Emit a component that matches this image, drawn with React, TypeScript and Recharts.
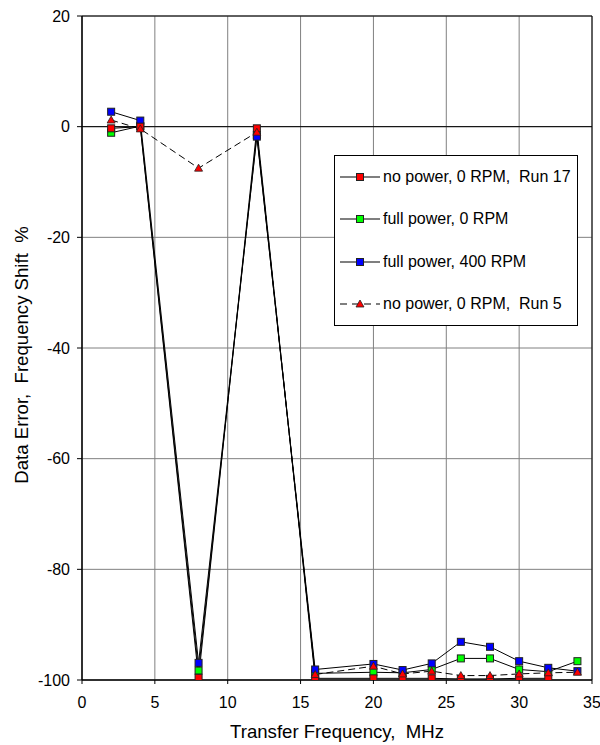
import React from 'react';
import {
  LineChart, Line, XAxis, YAxis, CartesianGrid, ReferenceLine, Legend,
} from 'recharts';

const freqs = [2, 4, 8, 12, 16, 20, 22, 24, 26, 28, 30, 32, 34];
const run17 = [-0.3, 0, -99.6, -0.3, -99.7, -99.7, -99.7, -99.7, -99.8, -99.8, -99.7, -99.7, null];
const fullPower0 = [-1.1, 0.1, -98.3, -1.5, -98.8, -98.6, -98.7, -98.1, -96.1, -96.1, -98.1, -98.5, -96.6];
const fullPower400 = [2.7, 1.1, -96.9, -1.8, -98.1, -97.1, -98.2, -97.0, -93.1, -94.0, -96.6, -97.8, -98.4];
const run5 = [1.2, -0.4, -7.5, -1.0, -99.0, -97.5, -98.9, -98.4, -99.2, -99.2, -98.9, -98.7, -98.6];

const xTicks = [0, 5, 10, 15, 20, 25, 30, 35];
const yTicks = [-100, -80, -60, -40, -20, 0, 20];

const legendItems = [
  { label: 'no power, 0 RPM,  Run 17', color: '#ff0000', shape: 'square', dashed: false },
  { label: 'full power, 0 RPM', color: '#00ff00', shape: 'square', dashed: false },
  { label: 'full power, 400 RPM', color: '#0000ff', shape: 'square', dashed: false },
  { label: 'no power, 0 RPM,  Run 5', color: '#ff0000', shape: 'triangle', dashed: true },
];

const data = freqs.map((f, i) => ({
  f,
  run17: run17[i],
  fp0: fullPower0[i],
  fp400: fullPower400[i],
  run5: run5[i],
}));

const FONT = 'Arial, "Liberation Sans", sans-serif';

const squareDot = (color: string, name: string) => (props: any) => {
  const { cx, cy, index } = props;
  if (cx == null || cy == null) return <g key={`${name}-${index}`} />;
  return (
    <rect key={`${name}-${index}`} x={cx - 3.5} y={cy - 3.5} width={7} height={7}
      fill={color} stroke="#222" strokeWidth={1} />
  );
};

const triangleDot = (color: string, name: string) => (props: any) => {
  const { cx, cy, index } = props;
  if (cx == null || cy == null) return <g key={`${name}-${index}`} />;
  return (
    <path key={`${name}-${index}`} d={`M${cx},${cy - 4} L${cx + 4},${cy + 3} L${cx - 4},${cy + 3} Z`}
      fill={color} stroke="#222" strokeWidth={0.8} />
  );
};

const LegendBox = () => (
  <div style={{
    width: 242, height: 169, border: '1px solid #000', background: '#fff',
    fontFamily: FONT, fontSize: 16, color: '#000', boxSizing: 'content-box',
  }}>
    {legendItems.map((it, i) => (
      <div key={i} style={{ position: 'absolute', left: 6, top: 12 + i * 42.4, height: 20, display: 'flex', alignItems: 'center' }}>
        <svg width={40} height={20}>
          <line x1={0} y1={10} x2={40} y2={10} stroke="#000" strokeWidth={1.2}
            strokeDasharray={it.dashed ? '7 5' : undefined} />
          {it.shape === 'square'
            ? <rect x={16.5} y={6.5} width={7} height={7} fill={it.color} stroke="#222" />
            : <path d="M20,6 L24,13 L16,13 Z" fill={it.color} stroke="#222" strokeWidth={0.8} />}
        </svg>
        <span style={{ whiteSpace: 'pre', marginLeft: 3 }}>{it.label}</span>
      </div>
    ))}
  </div>
);

export default function App() {
  return (
    <div style={{ position: 'absolute', left: 0, top: 0, width: 600, height: 745, background: '#fff' }}>
      <LineChart width={600} height={745} data={data}
        margin={{ top: 16, right: 8, left: 20, bottom: 15 }}>
        <CartesianGrid stroke="#808080" strokeWidth={1} />
        <XAxis dataKey="f" type="number" domain={[0, 35]} ticks={xTicks} allowDataOverflow
          height={50} tickSize={4} tickMargin={13}
          axisLine={{ stroke: '#000', strokeWidth: 1.5 }} tickLine={{ stroke: '#000' }}
          tick={{ fill: '#000', fontSize: 16, fontFamily: FONT }}
          label={() => (
            <text x={337} y={738} textAnchor="middle" fontSize={18.6} fontFamily={FONT}
              fill="#000" style={{ whiteSpace: 'pre' }}>Transfer Frequency,  MHz</text>
          )} />
        <YAxis type="number" domain={[-100, 20]} ticks={yTicks} allowDataOverflow
          width={62} tickSize={5} tickMargin={7}
          axisLine={{ stroke: '#000', strokeWidth: 1.5 }} tickLine={{ stroke: '#000' }}
          tick={{ fill: '#000', fontSize: 16, fontFamily: FONT }}
          label={() => (
            <text x={28} y={355} textAnchor="middle" fontSize={18.6} fontFamily={FONT}
              fill="#000" transform="rotate(-90 28 355)" style={{ whiteSpace: 'pre' }}>
              Data Error,  Frequency Shift  %
            </text>
          )} />
        <ReferenceLine y={0} stroke="#000" strokeWidth={1} />
        <ReferenceLine y={20} stroke="#000" strokeWidth={1} />
        <ReferenceLine x={35} stroke="#000" strokeWidth={1} />
        <Legend layout="vertical" align="center" verticalAlign="middle"
          wrapperStyle={{ left: 334, top: 155, width: 244, height: 171 }}
          content={() => <LegendBox />} />
        <Line dataKey="fp0" stroke="#000" strokeWidth={1} isAnimationActive={false}
          dot={squareDot('#00ff00', 'fp0')} activeDot={false} />
        <Line dataKey="fp400" stroke="#000" strokeWidth={1} isAnimationActive={false}
          dot={squareDot('#0000ff', 'fp400')} activeDot={false} />
        <Line dataKey="run17" stroke="#000" strokeWidth={1} isAnimationActive={false}
          dot={squareDot('#ff0000', 'run17')} activeDot={false} />
        <Line dataKey="run5" stroke="#000" strokeWidth={1} strokeDasharray="7 4" isAnimationActive={false}
          dot={triangleDot('#ff0000', 'run5')} activeDot={false} />
      </LineChart>
    </div>
  );
}
